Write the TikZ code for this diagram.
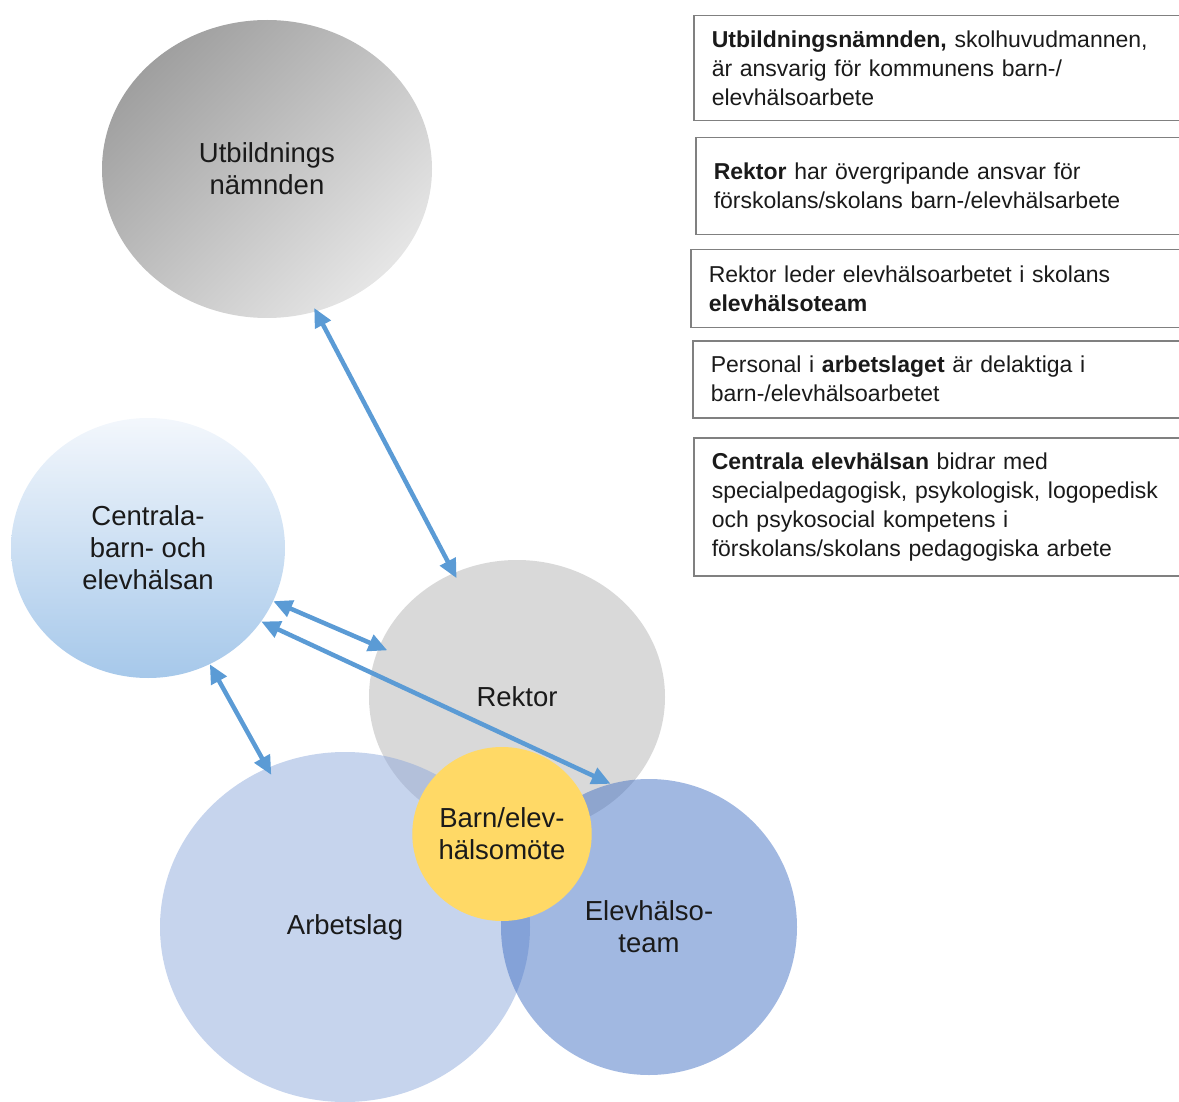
\documentclass[tikz,border=0pt]{standalone}
\usepackage{fontspec}
\setmainfont{Liberation Sans}
\usetikzlibrary{shapes.geometric,arrows.meta}
\definecolor{pilblue}{RGB}{91,155,213}
\definecolor{ramgray}{RGB}{128,128,128}
\definecolor{rekgray}{RGB}{217,217,217}
\definecolor{arbblue}{RGB}{142,169,219}
\definecolor{elevblue}{RGB}{68,114,196}
\definecolor{motegul}{RGB}{255,217,102}
\definecolor{textsv}{RGB}{26,26,26}

\begin{document}
\begin{tikzpicture}[x=1pt, y=-1pt, text=textsv,
	ring/.style={ellipse, inner sep=0pt, align=center, font=\fontsize{27.5}{32}\selectfont},
	ruta/.style={draw=ramgray, line width=1.5pt, anchor=north west, text width=480pt, inner xsep=18pt, align=left, font=\fontsize{23}{29}\selectfont},
	pil/.style={draw=pilblue, line width=4.5pt, {Triangle[length=19pt,width=17pt]}-{Triangle[length=19pt,width=17pt]}}]
		\useasboundingbox (0,0) rectangle (1179,1102);
		\clip (0,0) rectangle (1179,1102);

		% cirklarna
		\node[ring, minimum width=330pt, minimum height=298pt, top color=gray!75, bottom color=gray!20, shading angle=45] (utb) at (267,169) {Utbildnings\\nämnden};
		\node[ring, minimum width=274pt, minimum height=260pt, top color={rgb,255:red,243;green,247;blue,252}, bottom color={rgb,255:red,166;green,200;blue,234}] (cen) at (148,548) {Centrala-\\barn- och\\elevhälsan};
		\node[ring, minimum width=296pt, minimum height=274pt, fill=rekgray] (rek) at (517,697) {Rektor};
		\node[ring, minimum width=370pt, minimum height=350pt, fill=arbblue, fill opacity=0.5, text opacity=1] (arb) at (345,927) {Arbetslag};
		\node[ring, minimum width=296pt, minimum height=296pt, fill=elevblue, fill opacity=0.5, text opacity=1] (elev) at (649,927) {Elevhälso-\\team};
		\node[ring, minimum width=176pt, minimum height=174pt, fill=motegul] (mote) at (502,834) {Barn/elev-\\hälsomöte};

		% pilarna
		\draw[pil, shorten <=-4pt, shorten >=-6pt] (utb.289) -- (rek.117);
		\draw[pil, shorten >=-9pt] (cen.337) -- (rek.160);
		\draw[pil] (cen.327) -- (elev.105);
		\draw[pil, shorten >=-8pt] (cen.298) -- (arb.116);

		% rutorna
		\node[ruta, minimum height=105pt] (r1) at (693,15) {\textbf{Utbildningsnämnden,} skolhuvudmannen,\\är ansvarig för kommunens barn-/\\elevhälsoarbete};
		\node[ruta, minimum height=97pt] (r2) at (695,137) {\textbf{Rektor} har övergripande ansvar för\\förskolans/skolans barn-/elevhälsarbete};
		\node[ruta, minimum height=78pt] (r3) at (690,249) {Rektor leder elevhälsoarbetet i skolans\\\textbf{elevhälsoteam}};
		\node[ruta, minimum height=77pt] (r4) at (692,340) {Personal i \textbf{arbetslaget} är delaktiga i\\barn-/elevhälsoarbetet};
		\node[ruta, minimum height=138pt] (r5) at (693,437) {\textbf{Centrala elevhälsan} bidrar med\\specialpedagogisk, psykologisk, logopedisk\\och psykosocial kompetens i\\förskolans/skolans pedagogiska arbete};
	\end{tikzpicture}
\end{document}
